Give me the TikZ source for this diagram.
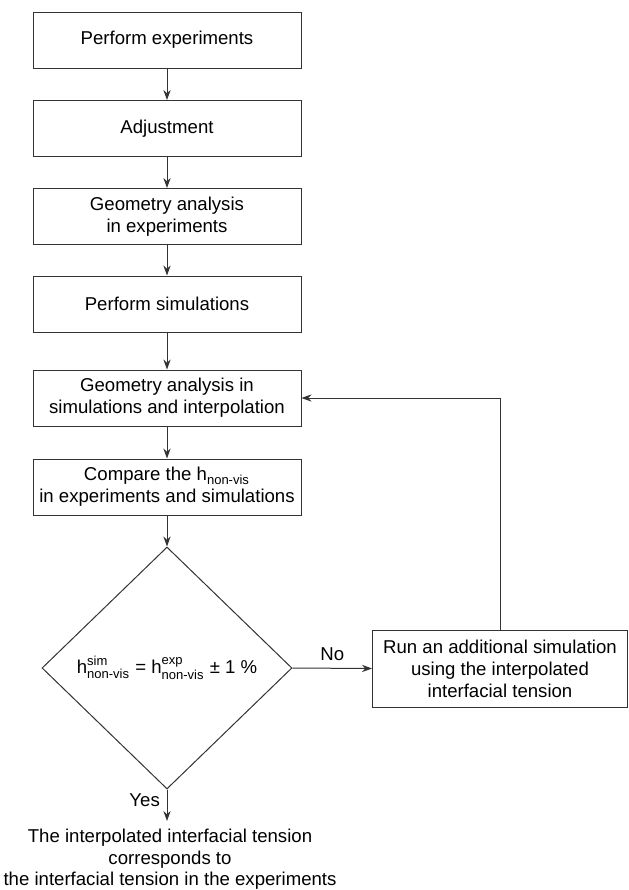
\documentclass[tikz,border=0pt]{standalone}
\usepackage{amsmath}
\usepackage{fontspec}
\setmainfont{Liberation Sans}
\usetikzlibrary{shapes.geometric,arrows.meta}
\newcommand{\hnv}[1]{h$^{\text{#1}}_{\text{non-vis}}$}

\begin{document}
\begin{tikzpicture}[x=0.5pt,y=-0.5pt,
  stepbox/.style={draw=black!80, minimum width=134pt, minimum height=28pt, align=center, inner sep=2pt},
  flow/.style={draw=black!80, -{Stealth[length=5pt,width=3.6pt]}},
  font=\fontsize{9.3}{11}\selectfont, line width=0.5pt]
  \useasboundingbox (0,0) rectangle (628,890);
  \node[stepbox] (exp) at (167,40) {Perform experiments};
  \node[stepbox] (adj) at (167,128.5) {Adjustment};
  \node[stepbox] (geoexp) at (167,216.5) {Geometry analysis\\ in experiments};
  \node[stepbox] (sim) at (167,304) {Perform simulations};
  \node[stepbox] (geosim) at (167,398) {Geometry analysis in\\simulations and interpolation};
  \node[stepbox] (cmp) at (167,487) {Compare the h\textsubscript{non-vis}\\in experiments and simulations};
  \node[draw=black!80, diamond, minimum width=125pt, minimum height=121pt, inner sep=0pt] (check) at (167,668) {\hnv{sim} = \hnv{exp} ± 1 \%};
  \node[stepbox, minimum width=127.5pt, minimum height=38.5pt] (run) at (500,668.5) {Run an additional simulation\\using the interpolated\\interfacial tension};
  \node[align=center, anchor=north, inner sep=4pt, font=\fontsize{9.3}{10.6}\selectfont] (result) at (170,821) {The interpolated interfacial tension\\corresponds to\\the interfacial tension in the experiments};
  % main chain
  \draw[flow] (exp) -- (adj);
  \draw[flow] (adj) -- (geoexp);
  \draw[flow] (geoexp) -- (sim);
  \draw[flow] (sim) -- (geosim);
  \draw[flow] (geosim) -- (cmp);
  \draw[flow] (cmp) -- (check);
  \draw[flow] (check.south) -- node[left, pos=0.35] {Yes} (check.south |- result.north);
  \draw[flow] (check.east) -- node[above] {No} (run.west);
  % feedback loop
  \draw[flow] (run.north) |- (geosim.east);
\end{tikzpicture}
\end{document}
